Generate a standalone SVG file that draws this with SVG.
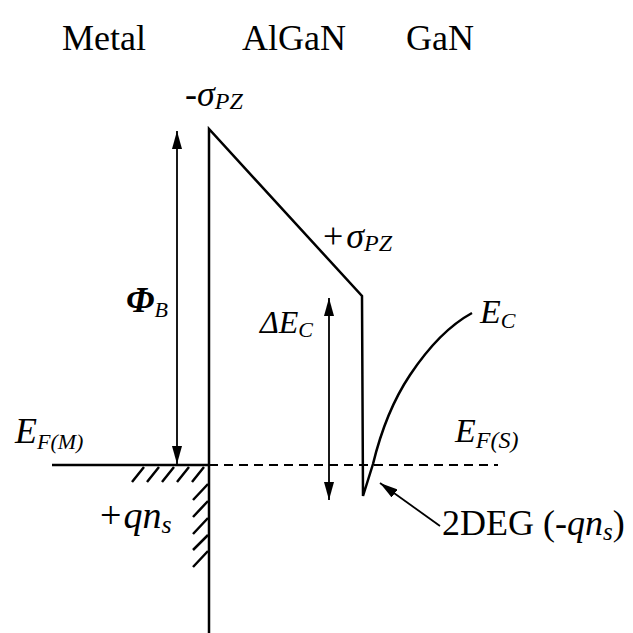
<svg xmlns="http://www.w3.org/2000/svg" width="633" height="633" viewBox="0 0 633 633">
<defs>
<marker id="ah2" viewBox="0 0 10 10" refX="10" refY="5" markerWidth="18" markerHeight="10" markerUnits="userSpaceOnUse" orient="auto-start-reverse" preserveAspectRatio="none">
<path d="M0,0 L10,5 L0,10 z" fill="#000"/>
</marker>
</defs>
<style>
.t{font-family:"Liberation Serif","Times New Roman",serif;fill:#000}
.i{font-style:italic}
.ln{stroke:#000;fill:none;stroke-width:2.5}
.th{stroke:#000;fill:none;stroke-width:1.8}
.h{stroke:#000;stroke-width:2.5}
</style>
<rect width="633" height="633" fill="#fff"/>
<g id="headers">
<text class="t" x="62" y="50" font-size="36">Metal</text>
<text class="t" x="242" y="50" font-size="36">AlGaN</text>
<text class="t" x="406" y="50" font-size="36">GaN</text>
</g>
<g id="band">
<path class="ln" d="M209,633 L209,129 L362,296 L363,496 L373,464 C380,435 390,405 410,375 C430,345 450,325 472,313"/>
<line class="ln" x1="52" y1="465" x2="209" y2="465"/>
<line class="th" x1="209" y1="465" x2="498" y2="465" stroke-dasharray="9,6"/>
</g>
<g id="hatch">
<path class="h" d="M132,482 L144,467 M147,482 L159,467 M162,482 L174,467 M177,482 L189,467 M192,482 L204,467 M193,500 L208,484 M193,517 L208,501 M193,534 L208,518 M193,550 L208,535 M193,567 L208,551"/>
</g>
<g id="connectors">
<line class="th" x1="440" y1="526" x2="380" y2="483" marker-end="url(#ah2)"/>
<line class="th" x1="177" y1="131" x2="177" y2="464" marker-start="url(#ah2)" marker-end="url(#ah2)"/>
<line class="th" x1="329" y1="298" x2="329" y2="500" marker-start="url(#ah2)" marker-end="url(#ah2)"/>
</g>
<g id="labels">
<text class="t" x="185" y="106" font-size="36">-<tspan class="i">σ</tspan><tspan class="i" font-size="24" dy="3">PZ</tspan></text>
<text class="t" x="323" y="248" font-size="36">+<tspan class="i" dx="3">σ</tspan><tspan class="i" font-size="24" dy="3">PZ</tspan></text>
<text class="t i" x="126" y="312" font-size="36" font-weight="bold">Φ<tspan font-size="22" font-weight="normal" dy="5">B</tspan></text>
<text class="t i" x="260" y="333" font-size="32">ΔE<tspan font-size="22" dy="4">C</tspan></text>
<text class="t i" x="480" y="323" font-size="34">E<tspan font-size="22" dy="5">C</tspan></text>
<text class="t i" x="15" y="443" font-size="36">E<tspan font-size="22" dy="6">F(M)</tspan></text>
<text class="t i" x="455" y="442" font-size="34">E<tspan font-size="24" dy="6">F(S)</tspan></text>
<text class="t" x="100" y="528" font-size="38">+<tspan class="i" dx="2">qn</tspan><tspan class="i" font-size="26" dy="5">s</tspan></text>
<text class="t" x="442" y="535" font-size="36">2DEG (-<tspan class="i">qn</tspan><tspan class="i" font-size="25" dy="5">s</tspan><tspan dy="-5">)</tspan></text>
</g>
</svg>
